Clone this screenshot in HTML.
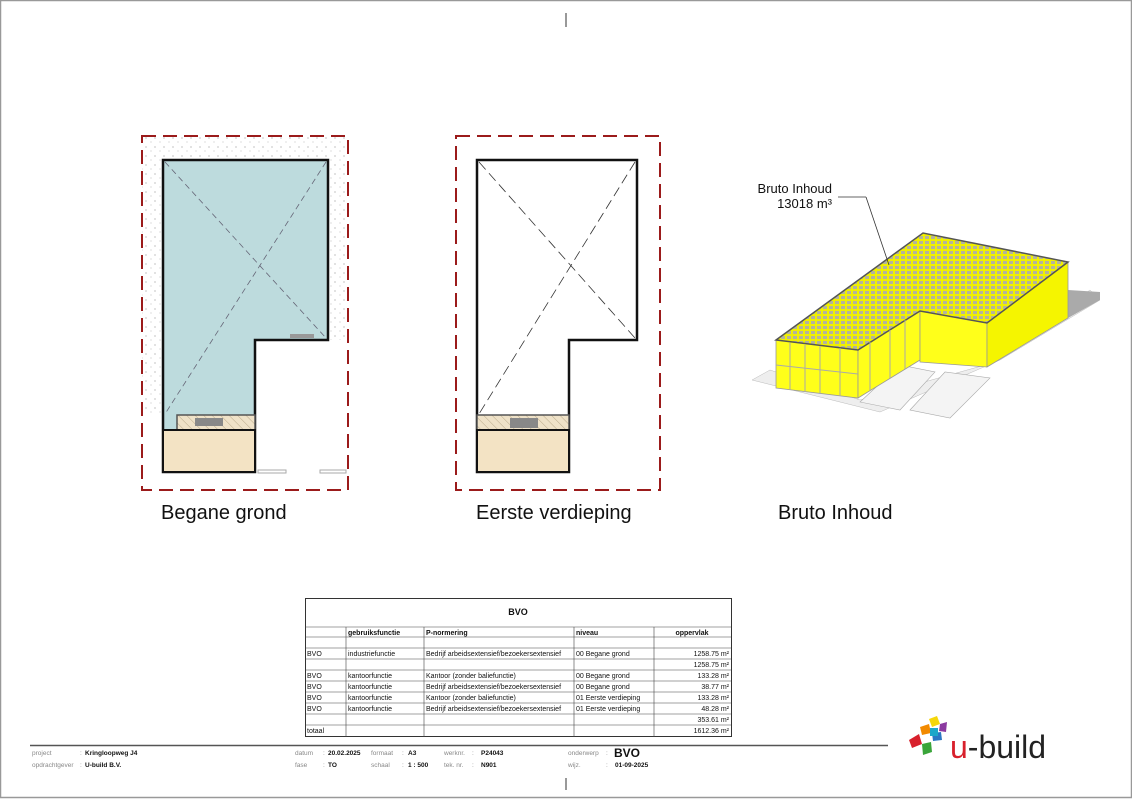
<!DOCTYPE html>
<html><head><meta charset="utf-8"><style>
html,body{margin:0;padding:0;background:#fff;}
svg{display:block;font-family:"Liberation Sans",sans-serif;}
</style></head><body>
<svg width="1132" height="800" viewBox="0 0 1132 800" xmlns="http://www.w3.org/2000/svg">
<defs>
<pattern id="dots" width="9" height="9" patternUnits="userSpaceOnUse"><rect width="9" height="9" fill="#fff"/><circle cx="2" cy="3" r="0.6" fill="#999"/><circle cx="7" cy="7" r="0.5" fill="#aaa"/></pattern>
<pattern id="hatch" width="6" height="6" patternUnits="userSpaceOnUse" patternTransform="rotate(-45)"><rect width="6" height="6" fill="#efe2c8"/><line x1="0" y1="0" x2="0" y2="6" stroke="#b9a98a" stroke-width="1"/></pattern>
<pattern id="pv" width="6" height="5" patternUnits="userSpaceOnUse"><rect width="6" height="5" fill="#f0f000"/><rect x="1" y="1" width="4" height="3" fill="#b4b49c"/></pattern>
</defs>
<rect x="0.5" y="0.5" width="1131" height="797" fill="none" stroke="#999" stroke-width="1.5"/>
<line x1="566" y1="13" x2="566" y2="27" stroke="#333"/>
<line x1="566" y1="778" x2="566" y2="790" stroke="#333"/>

<!-- Plan 1 -->
<rect x="142" y="136" width="206" height="354" fill="url(#dots)"/>
<rect x="255" y="340" width="93" height="150" fill="#fff"/>
<rect x="142" y="415" width="21" height="75" fill="#fff"/>
<rect x="142" y="472" width="206" height="18" fill="#fff"/>
<polygon points="163,160 328,160 328,340 255,340 255,472 163,472" fill="#bddbdd" stroke="#111" stroke-width="2.5"/>
<line x1="165" y1="162" x2="326" y2="338" stroke="#667" stroke-width="0.8" stroke-dasharray="6,4"/>
<line x1="326" y1="162" x2="165" y2="414" stroke="#667" stroke-width="0.8" stroke-dasharray="6,4"/>
<rect x="177" y="415" width="78" height="15" fill="url(#hatch)" stroke="#555" stroke-width="1.5"/>
<rect x="195" y="418" width="28" height="8" fill="#888"/>
<rect x="163" y="430" width="92" height="42" fill="#f3e3c4" stroke="#111" stroke-width="2"/>
<rect x="290" y="334" width="24" height="4" fill="#999"/>
<rect x="258" y="470" width="28" height="3" fill="none" stroke="#aaa"/>
<rect x="320" y="470" width="26" height="3" fill="none" stroke="#aaa"/>
<rect x="142" y="136" width="206" height="354" fill="none" stroke="#9b1b1b" stroke-width="2" stroke-dasharray="14,7"/>

<!-- Plan 2 -->
<polygon points="477,160 637,160 637,340 569,340 569,472 477,472" fill="#fff" stroke="#111" stroke-width="2.5"/>
<line x1="479" y1="162" x2="635" y2="338" stroke="#333" stroke-width="0.8" stroke-dasharray="10,5"/>
<line x1="635" y1="162" x2="479" y2="414" stroke="#333" stroke-width="0.8" stroke-dasharray="10,5"/>
<rect x="477" y="415" width="92" height="15" fill="url(#hatch)" stroke="#555" stroke-width="1.5"/>
<rect x="510" y="418" width="28" height="10" fill="#888"/>
<rect x="477" y="430" width="92" height="42" fill="#f3e3c4" stroke="#111" stroke-width="2"/>
<rect x="456" y="136" width="204" height="354" fill="none" stroke="#9b1b1b" stroke-width="2" stroke-dasharray="14,7"/>

<!-- 3D -->
<polygon points="752,380 880,412 1000,360 1100,300 1090,290 985,365 860,400 770,370" fill="#eee" stroke="#bbb" stroke-width="0.5"/>
<polygon points="1068,290 1100,292 1100,300 1068,318" fill="#aaa"/>
<polygon points="860,402 900,365 935,372 900,410" fill="#f4f4f4" stroke="#aaa" stroke-width="0.6"/>
<polygon points="910,410 945,372 990,378 950,418" fill="#f4f4f4" stroke="#aaa" stroke-width="0.6"/>
<polygon points="776,340 858,350 858,398 776,388" fill="#ffff1a" stroke="#999" stroke-width="0.8"/>
<polygon points="858,350 920,311 920,360 858,398" fill="#ffff1a" stroke="#999" stroke-width="0.8"/>
<polygon points="920,311 987,323 987,367 920,362" fill="#ffff1a" stroke="#999" stroke-width="0.8"/>
<polygon points="987,323 1068,262 1068,318 987,367" fill="#f5f500" stroke="#999" stroke-width="0.8"/>
<polygon points="776,340 923,233 1068,262 987,323 920,311 858,350" fill="url(#pv)" stroke="#555" stroke-width="1.5"/>
<g stroke="#aaa" stroke-width="1">
<line x1="790" y1="343" x2="790" y2="390"/><line x1="805" y1="345" x2="805" y2="392"/><line x1="820" y1="346" x2="820" y2="394"/><line x1="840" y1="348" x2="840" y2="396"/>
<line x1="776" y1="365" x2="858" y2="374"/><line x1="870" y1="342" x2="870" y2="390"/><line x1="890" y1="330" x2="890" y2="378"/><line x1="905" y1="320" x2="905" y2="369"/>
</g>
<line x1="838" y1="197" x2="866" y2="197" stroke="#333" stroke-width="0.8"/>
<line x1="866" y1="197" x2="889" y2="265" stroke="#333" stroke-width="0.8"/>
<text x="832" y="193" font-size="13" text-anchor="end" fill="#111">Bruto Inhoud</text>
<text x="832" y="208" font-size="13" text-anchor="end" fill="#111">13018 m³</text>

<text x="161" y="519" font-size="20" fill="#111">Begane grond</text>
<text x="476" y="519" font-size="20" fill="#111">Eerste verdieping</text>
<text x="778" y="519" font-size="20" fill="#111">Bruto Inhoud</text>

<!-- Table -->
<g font-size="7" fill="#111">
<rect x="305.5" y="598.5" width="426" height="138" fill="none" stroke="#333" stroke-width="1"/>
<text x="518" y="615" font-size="9" font-weight="bold" text-anchor="middle">BVO</text>
<g stroke="#444" stroke-width="0.6">
<line x1="305" y1="627" x2="731" y2="627"/><line x1="305" y1="637" x2="731" y2="637"/>
<line x1="305" y1="648" x2="731" y2="648"/><line x1="305" y1="659" x2="731" y2="659"/>
<line x1="305" y1="670" x2="731" y2="670"/><line x1="305" y1="681" x2="731" y2="681"/>
<line x1="305" y1="692" x2="731" y2="692"/><line x1="305" y1="703" x2="731" y2="703"/>
<line x1="305" y1="714" x2="731" y2="714"/><line x1="305" y1="725" x2="731" y2="725"/>
<line x1="346" y1="627" x2="346" y2="737"/><line x1="424" y1="627" x2="424" y2="737"/>
<line x1="574" y1="627" x2="574" y2="737"/><line x1="654" y1="627" x2="654" y2="737"/>
</g>
<g font-weight="bold"><text x="348" y="635">gebruiksfunctie</text><text x="426" y="635">P-normering</text><text x="576" y="635">niveau</text><text x="692" y="635" text-anchor="middle">oppervlak</text></g>
<text x="307" y="656">BVO</text><text x="348" y="656">industriefunctie</text><text x="426" y="656">Bedrijf arbeidsextensief/bezoekersextensief</text><text x="576" y="656">00 Begane grond</text><text x="729" y="656" text-anchor="end">1258.75 m²</text>
<text x="729" y="667" text-anchor="end">1258.75 m²</text>
<text x="307" y="678">BVO</text><text x="348" y="678">kantoorfunctie</text><text x="426" y="678">Kantoor (zonder baliefunctie)</text><text x="576" y="678">00 Begane grond</text><text x="729" y="678" text-anchor="end">133.28 m²</text>
<text x="307" y="689">BVO</text><text x="348" y="689">kantoorfunctie</text><text x="426" y="689">Bedrijf arbeidsextensief/bezoekersextensief</text><text x="576" y="689">00 Begane grond</text><text x="729" y="689" text-anchor="end">38.77 m²</text>
<text x="307" y="700">BVO</text><text x="348" y="700">kantoorfunctie</text><text x="426" y="700">Kantoor (zonder baliefunctie)</text><text x="576" y="700">01 Eerste verdieping</text><text x="729" y="700" text-anchor="end">133.28 m²</text>
<text x="307" y="711">BVO</text><text x="348" y="711">kantoorfunctie</text><text x="426" y="711">Bedrijf arbeidsextensief/bezoekersextensief</text><text x="576" y="711">01 Eerste verdieping</text><text x="729" y="711" text-anchor="end">48.28 m²</text>
<text x="729" y="722" text-anchor="end">353.61 m²</text>
<text x="307" y="733">totaal</text><text x="729" y="733" text-anchor="end">1612.36 m²</text>
</g>

<!-- Footer -->
<line x1="30" y1="745.5" x2="888" y2="745.5" stroke="#555" stroke-width="1.5"/>
<g font-size="6.5" fill="#888">
<text x="32" y="755">project</text><text x="32" y="767">opdrachtgever</text>
<text x="295" y="755">datum</text><text x="295" y="767">fase</text>
<text x="371" y="755">formaat</text><text x="371" y="767">schaal</text>
<text x="444" y="755">werknr.</text><text x="444" y="767">tek. nr.</text>
<text x="568" y="755">onderwerp</text><text x="568" y="767">wijz.</text>
<text x="80" y="755">:</text><text x="80" y="767">:</text><text x="323" y="755">:</text><text x="323" y="767">:</text>
<text x="402" y="755">:</text><text x="402" y="767">:</text><text x="472" y="755">:</text><text x="472" y="767">:</text>
<text x="606" y="755">:</text><text x="606" y="767">:</text>
</g>
<g font-size="6.5" fill="#111" font-weight="bold">
<text x="85" y="755">Kringloopweg J4</text><text x="85" y="767">U-build B.V.</text>
<text x="328" y="755">20.02.2025</text><text x="328" y="767">TO</text>
<text x="408" y="755">A3</text><text x="408" y="767">1 : 500</text>
<text x="481" y="755">P24043</text><text x="481" y="767">N901</text>
<text x="615" y="767">01-09-2025</text>
<text x="614" y="757" font-size="12">BVO</text>
</g>
<!-- logo -->
<g>
<polygon points="929,719 937,716 940,724 932,727" fill="#f5d70a"/>
<polygon points="940,724 947,722 946,732 939,731" fill="#8b3aa0"/>
<polygon points="920,727 929,724 931,733 922,735" fill="#f28a00"/>
<polygon points="932,733 941,732 942,740 933,741" fill="#2a77c4"/>
<polygon points="909,740 919,734 922,744 912,748" fill="#d8202c"/>
<polygon points="922,744 931,742 932,752 923,755" fill="#3aa53a"/>
<polygon points="930,728 938,728 938,736 930,736" fill="#1ba7c9"/>
</g>
<text x="950" y="758" font-size="32" fill="#222" font-weight="normal"><tspan fill="#d8202c">u</tspan>-build</text>
</svg>
</body></html>
